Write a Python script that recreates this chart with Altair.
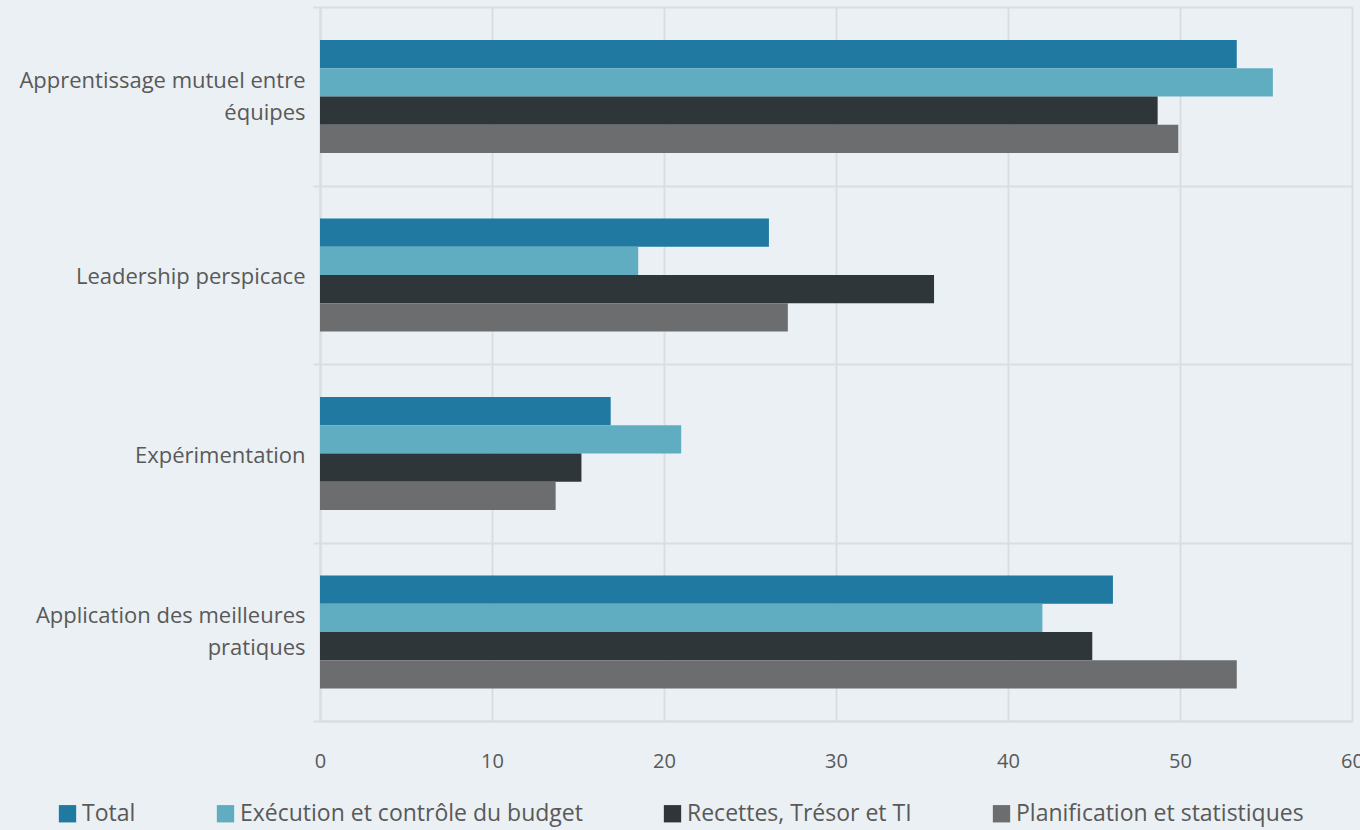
import altair as alt
import pandas as pd

categories = [
    "Apprentissage mutuel entre équipes",
    "Leadership perspicace",
    "Expérimentation",
    "Application des meilleures pratiques",
]
series = [
    "Total",
    "Exécution et contrôle du budget",
    "Recettes, Trésor et TI",
    "Planification et statistiques",
]
total = [53.3, 26.1, 16.9, 46.1]
execution = [55.4, 18.5, 21.0, 42.0]
recettes = [48.7, 35.7, 15.2, 44.9]
planification = [49.9, 27.2, 13.7, 53.3]
colors = ["#1f79a0", "#60adc2", "#2e3639", "#6c6d6f"]
x_ticks = [0, 10, 20, 30, 40, 50, 60]

rows = []
for s, vals in zip(series, [total, execution, recettes, planification]):
    for c, v in zip(categories, vals):
        rows.append({"cat": c, "series": s, "value": v})
df = pd.DataFrame(rows)

two_line = "(datum.label == 'Apprentissage mutuel entre équipes' || datum.label == 'Application des meilleures pratiques')"
label_expr = (
    "datum.label == 'Apprentissage mutuel entre équipes' ? ['Apprentissage mutuel entre', 'équipes'] : "
    "datum.label == 'Application des meilleures pratiques' ? ['Application des meilleures', 'pratiques'] : datum.label"
)

grid_c = "#dadee1"
text_c = "#595959"
font = "Open Sans"

chart = (
    alt.Chart(df)
    .mark_bar()
    .encode(
        y=alt.Y(
            "cat:N",
            sort=categories,
            title=None,
            scale=alt.Scale(paddingInner=0, paddingOuter=0),
            axis=alt.Axis(
                tickBand="extent",
                grid=True,
                gridColor=grid_c,
                gridWidth=2,
                domainColor=grid_c,
                domainWidth=2,
                tickColor=grid_c,
                tickWidth=2,
                tickSize=7,
                labelFont=font,
                labelFontSize=22,
                labelColor=text_c,
                labelPadding=8,
                labelLineHeight=32,
                labelExpr=label_expr,
                labelOffset={"condition": {"test": two_line, "value": -16}, "value": 2},
                labelLimit=400,
            ),
        ),
        x=alt.X(
            "value:Q",
            title=None,
            scale=alt.Scale(domain=[0, 60], nice=False),
            axis=alt.Axis(
                values=x_ticks,
                grid=True,
                gridColor=grid_c,
                gridWidth=2,
                domainColor=grid_c,
                domainWidth=2,
                ticks=False,
                labelPadding=30,
                labelFont=font,
                labelFontSize=20,
                labelColor=text_c,
                labelFlush=False,
                labelOverlap=False,
            ),
        ),
        yOffset=alt.YOffset(
            "series:N",
            sort=series,
            scale=alt.Scale(domain=series, paddingInner=0, paddingOuter=0, range=[33, 146]),
        ),
        color=alt.Color(
            "series:N",
            sort=series,
            scale=alt.Scale(domain=series, range=colors),
            legend=alt.Legend(
                title=None,
                orient="none",
                direction="horizontal",
                columns=4,
                legendX=-264,
                legendY=795,
                symbolType="square",
                symbolSize=300,
                symbolStrokeWidth=0,
                labelFont=font,
                labelFontSize=23,
                labelColor=text_c,
                labelOffset=3,
                columnPadding=78,
                labelLimit=500,
            ),
        ),
    )
    .properties(
        width=1032,
        height=714,
        background="#eaf0f3",
        autosize=alt.AutoSizeParams(type="none"),
        padding={"left": 320, "top": 7, "right": 8, "bottom": 109},
    )
    .configure_view(stroke=None, fill="#eaf0f3")
)

chart.save("out.html", embed_options={"renderer": "svg", "actions": False})
